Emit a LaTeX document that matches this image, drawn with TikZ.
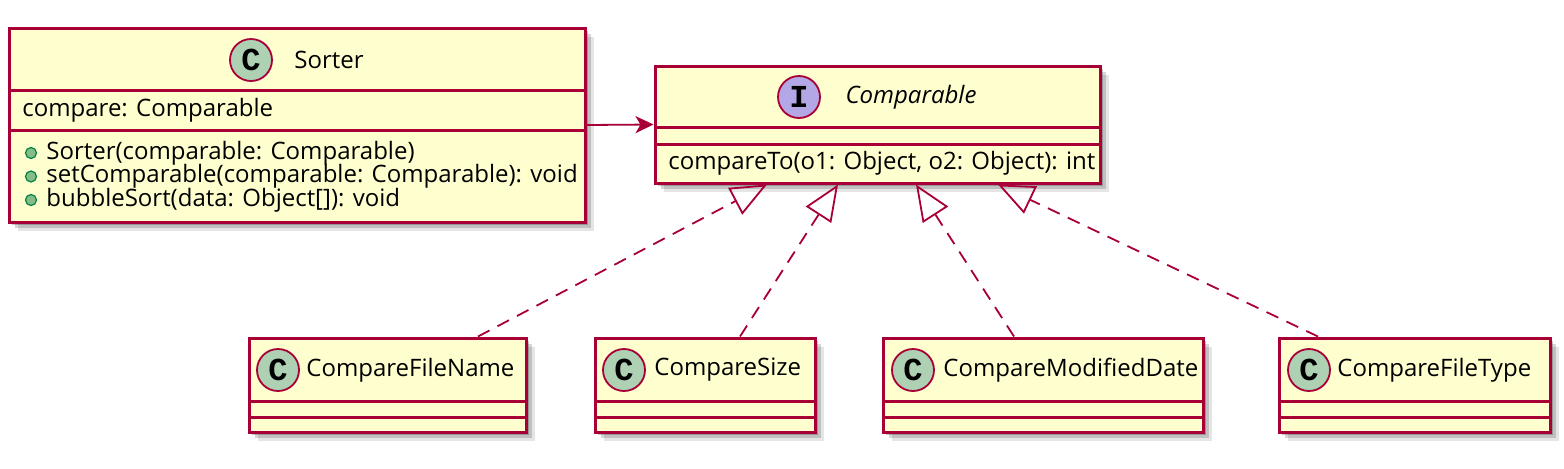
\documentclass[tikz,border=0pt]{standalone}
\usepackage{fontspec}
\setmainfont{Open Sans}
\newfontfamily\markfont{Liberation Mono}
\usetikzlibrary{arrows.meta,shadows}
\definecolor{Fill}{HTML}{FEFECE}
\definecolor{Border}{HTML}{A80036}
\definecolor{ClassMark}{HTML}{ADD1B2}
\definecolor{IfaceMark}{HTML}{B4A7E5}
\definecolor{DotFill}{HTML}{84BE84}
\definecolor{DotLine}{HTML}{038048}
\tikzset{
  umlbox/.style={rectangle, draw=Border, line width=1.5pt, fill=Fill, inner sep=0pt,
    drop shadow={shadow xshift=1.5pt, shadow yshift=-1.5pt, opacity=0.22, fill=black},
    drop shadow={shadow xshift=3pt, shadow yshift=-3pt, opacity=0.16, fill=black},
    drop shadow={shadow xshift=4.5pt, shadow yshift=-4.5pt, opacity=0.1, fill=black}},
  divider/.style={draw=Border, line width=1.5pt},
  classmark/.style={circle, draw=Border, line width=0.9pt, fill=ClassMark,
    minimum size=21pt, inner sep=0pt, font=\markfont\bfseries\fontsize{16}{16}\selectfont},
  ifacemark/.style={classmark, fill=IfaceMark},
  classname/.style={inner sep=0pt, font=\fontsize{12}{14}\selectfont},
  member/.style={anchor=west, inner sep=0pt, font=\fontsize{12}{14}\selectfont},
  visdot/.style={circle, draw=DotLine, line width=0.6pt, fill=DotFill,
    minimum size=5.5pt, inner sep=0pt},
  assoc/.style={-{Stealth[length=9pt, width=8.5pt, inset=2.5pt]}, draw=Border, line width=0.9pt},
  realize/.style={-{Triangle[open, length=18pt, width=15pt]}, draw=Border, line width=0.9pt,
    dash pattern=on 6.5pt off 4.5pt}
}
\begin{document}
\begin{tikzpicture}[x=0.5pt, y=-0.5pt]
  \useasboundingbox (0,0) rectangle (1564,468);
  % class boxes
  \node[umlbox, minimum width=288pt, minimum height=97pt] (sorter) at (297,125) {};
  \node[umlbox, minimum width=222.5pt, minimum height=58.5pt] (comparable) at (877.5,124.5) {};
  \node[umlbox, minimum width=138.5pt, minimum height=47pt] (filename) at (387.5,385) {};
  \node[umlbox, minimum width=110pt, minimum height=47pt] (size) at (705,385) {};
  \node[umlbox, minimum width=160pt, minimum height=47pt] (modified) at (1043,385) {};
  \node[umlbox, minimum width=135.5pt, minimum height=47pt] (filetype) at (1414.5,385) {};
  % compartments
  \draw[divider] (sorter.west |- 0,90) -- (sorter.east |- 0,90);
  \draw[divider] (sorter.west |- 0,130) -- (sorter.east |- 0,130);
  \draw[divider] (comparable.west |- 0,127) -- (comparable.east |- 0,127);
  \draw[divider] (comparable.west |- 0,144) -- (comparable.east |- 0,144);
  \draw[divider] (filename.west |- 0,401) -- (filename.east |- 0,401);
  \draw[divider] (filename.west |- 0,417) -- (filename.east |- 0,417);
  \draw[divider] (size.west |- 0,401) -- (size.east |- 0,401);
  \draw[divider] (size.west |- 0,417) -- (size.east |- 0,417);
  \draw[divider] (modified.west |- 0,401) -- (modified.east |- 0,401);
  \draw[divider] (modified.west |- 0,417) -- (modified.east |- 0,417);
  \draw[divider] (filetype.west |- 0,401) -- (filetype.east |- 0,401);
  \draw[divider] (filetype.west |- 0,417) -- (filetype.east |- 0,417);
  % headers
  \node[classmark] (sorter-c) at (251,60) {C};
  \node[classname] (sorter-name) at (329,60) {Sorter};
  \node[ifacemark] (comparable-i) at (799,97) {I};
  \node[classname, font=\fontsize{12}{14}\selectfont\itshape] (comparable-name) at (911,97) {Comparable};
  \node[classmark] (filename-c) at (278,370) {C};
  \node[classname, anchor=west] (filename-name) at (306,370) {CompareFileName};
  \node[classmark] (size-c) at (624,370) {C};
  \node[classname, anchor=west] (size-name) at (654,370) {CompareSize};
  \node[classmark] (modified-c) at (913,370) {C};
  \node[classname, anchor=west] (modified-name) at (943,370) {CompareModifiedDate};
  \node[classmark] (filetype-c) at (1309,370) {C};
  \node[classname, anchor=west] (filetype-name) at (1337,370) {CompareFileType};
  % members
  \node[member] (field) at (22,110) {compare: Comparable};
  \node[visdot] (dot1) at (31,153) {};
  \node[member] (ctor) at (46,153) {Sorter(comparable: Comparable)};
  \node[visdot] (dot2) at (31,176.5) {};
  \node[member] (setter) at (46,176.5) {setComparable(comparable: Comparable): void};
  \node[visdot] (dot3) at (31,200) {};
  \node[member] (sort) at (46,200) {bubbleSort(data: Object[]): void};
  \node[member] (compare-to) at (668,163) {compareTo(o1: Object, o2: Object): int};
  % relations
  \draw[assoc] (sorter.east) -- (comparable.west);
  \draw[realize] ([xshift=45.25pt]filename.north) -- ([xshift=-55.25pt]comparable.south);
  \draw[realize] ([xshift=17.5pt]size.north) -- ([xshift=-19.75pt]comparable.south);
  \draw[realize] ([xshift=-14.5pt]modified.north) -- ([xshift=19.25pt]comparable.south);
  \draw[realize] ([xshift=-48.25pt]filetype.north) -- ([xshift=60.25pt]comparable.south);
\end{tikzpicture}
\end{document}
